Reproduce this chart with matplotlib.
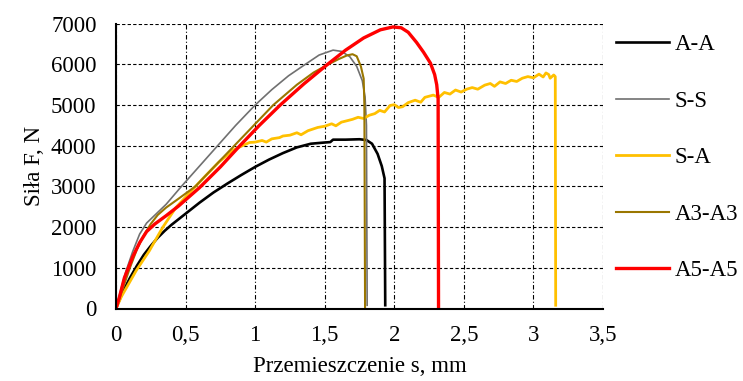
import numpy as np
import matplotlib.pyplot as plt
from matplotlib.ticker import FuncFormatter

plt.rcParams['font.family'] = ['Liberation Serif', 'DejaVu Serif']
fs = 16.5

# --- Dane ---
labels = ['A-A', 'S-S', 'S-A', 'A3-A3', 'A5-A5']
colors = ['#000000', '#707070', '#FFC000', '#9A7600', '#FF0000']
widths = [1.9, 1.2, 2.0, 1.5, 2.4]

x_aa = [0, 0.03, 0.06, 0.1, 0.15, 0.2, 0.25, 0.3, 0.35, 0.4, 0.5, 0.6, 0.7, 0.8, 0.9, 1.0,
        1.1, 1.2, 1.3, 1.4, 1.5, 1.54, 1.56, 1.65, 1.75, 1.80, 1.84, 1.88, 1.91, 1.93, 1.935]
y_aa = [0, 250, 480, 750, 1050, 1320, 1540, 1740, 1910, 2060, 2330, 2600, 2850, 3070, 3280, 3480,
        3660, 3820, 3960, 4050, 4080, 4090, 4150, 4150, 4160, 4140, 4050, 3800, 3500, 3200, 80]

x_ss = [0, 0.03, 0.07, 0.12, 0.17, 0.22, 0.29, 0.36, 0.47, 0.6, 0.73, 0.86, 1.0, 1.12, 1.24,
        1.36, 1.46, 1.56, 1.62, 1.68, 1.73, 1.77, 1.79, 1.80, 1.805]
y_ss = [0, 400, 900, 1400, 1830, 2100, 2330, 2560, 3000, 3500, 4000, 4500, 5000, 5380, 5720,
        6000, 6230, 6350, 6320, 6190, 5950, 5600, 5200, 4500, 80]

x_sa = [0, 0.04, 0.09, 0.144, 0.24, 0.335, 0.43, 0.53, 0.64, 0.74, 0.84, 0.92, 0.96, 1.0, 1.05,
        1.08, 1.12, 1.175, 1.2, 1.25, 1.3, 1.33, 1.38, 1.415, 1.45, 1.5, 1.55, 1.58, 1.62, 1.655,
        1.7, 1.74, 1.78, 1.82, 1.86, 1.895, 1.93, 1.97, 2.0, 2.03, 2.06, 2.1, 2.15, 2.19, 2.22,
        2.28, 2.32, 2.36, 2.4, 2.44, 2.48, 2.52, 2.56, 2.6, 2.65, 2.69, 2.72, 2.76, 2.8, 2.84,
        2.88, 2.92, 2.96, 3.0, 3.04, 3.07, 3.09, 3.11, 3.12, 3.146, 3.157, 3.16]
y_sa = [0, 300, 600, 925, 1420, 1990, 2480, 2850, 3250, 3600, 3890, 4020, 4080, 4090, 4130,
        4090, 4170, 4200, 4240, 4260, 4320, 4270, 4370, 4410, 4450, 4480, 4540, 4490, 4580, 4610,
        4650, 4700, 4670, 4750, 4790, 4870, 4830, 4990, 5010, 4940, 4960, 5060, 5120, 5070, 5190,
        5245, 5190, 5310, 5270, 5370, 5320, 5390, 5430, 5390, 5490, 5530, 5460, 5570, 5530, 5610,
        5580, 5660, 5700, 5670, 5760, 5690, 5790, 5750, 5660, 5740, 5700, 80]

x_a3 = [0, 0.05, 0.1, 0.15, 0.2, 0.25, 0.3, 0.36, 0.45, 0.57, 0.71, 0.85, 0.99, 1.13, 1.3,
        1.42, 1.52, 1.6, 1.66, 1.70, 1.73, 1.76, 1.78, 1.785, 1.79]
y_a3 = [0, 500, 1000, 1450, 1800, 2080, 2300, 2480, 2700, 3000, 3500, 4000, 4500, 5000, 5500,
        5800, 5990, 6130, 6220, 6250, 6200, 5950, 5650, 5000, 0]

x_a5 = [0, 0.024, 0.06, 0.12, 0.17, 0.22, 0.28, 0.36, 0.45, 0.6, 0.75, 0.89, 1.03, 1.18, 1.35,
        1.52, 1.65, 1.78, 1.9, 1.99, 2.05, 2.1, 2.16, 2.21, 2.26, 2.29, 2.305, 2.315, 2.318]
y_a5 = [0, 270, 750, 1270, 1620, 1890, 2080, 2280, 2520, 2970, 3480, 4000, 4500, 5000, 5520,
        6000, 6350, 6650, 6850, 6920, 6900, 6790, 6540, 6300, 6030, 5750, 5500, 5150, 0]

xs = [x_aa, x_ss, x_sa, x_a3, x_a5]
ys = [y_aa, y_ss, y_sa, y_a3, y_a5]

fig = plt.figure(figsize=(7.43, 3.81), dpi=100)
ax = fig.add_axes([116/743, 1-308.5/381, (603-116)/743, (308.5-23.7)/381])

for x, y, c, w, lab in zip(xs, ys, colors, widths, labels):
    ax.plot(x, y, color=c, lw=w, label=lab, solid_joinstyle='round')

ax.set_xlim(0, 3.5)
ax.set_ylim(0, 7000)
ax.set_xticks(np.arange(0, 3.51, 0.5))
ax.set_yticks(np.arange(0, 7001, 1000))
ax.xaxis.set_major_formatter(FuncFormatter(lambda v, p: ('%g' % v).replace('.', ',')))

ax.grid(axis='y', color='black', lw=0.8, linestyle=(0, (3, 2)))
ax.grid(axis='x', color='black', lw=0.8, linestyle=(0, (4, 2, 1, 2)))
ax.set_axisbelow(True)
for s in ['top', 'right']:
    ax.spines[s].set_visible(False)
for s in ['left', 'bottom']:
    ax.spines[s].set_linewidth(1.5)
ax.tick_params(length=0, labelsize=fs)
ax.tick_params(axis='x', pad=12)
ax.tick_params(axis='y', pad=14)

ax.set_xlabel('Przemieszczenie s, mm', fontsize=fs, labelpad=7)
ax.set_ylabel('Siła F, N', fontsize=fs, labelpad=4)

fig.legend(loc='center left', bbox_to_anchor=(616/743, 1-157.7/381), frameon=False,
           fontsize=fs, handlelength=2.3, handletextpad=0.25, labelspacing=1.55,
           borderpad=0, borderaxespad=0)

fig.savefig('out.png', dpi=100)
